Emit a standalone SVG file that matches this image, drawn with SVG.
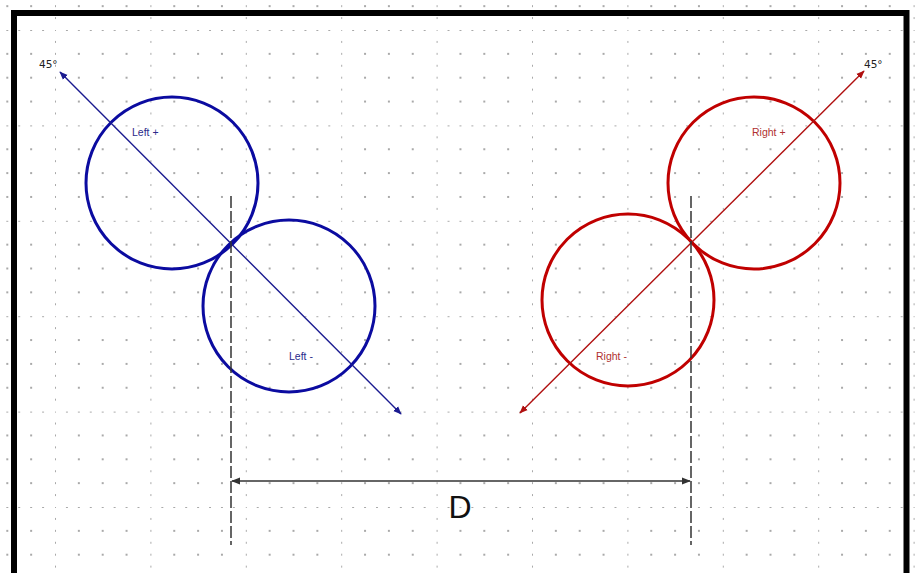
<svg xmlns="http://www.w3.org/2000/svg" width="915" height="573" viewBox="0 0 915 573">
<style>
.dot{fill:#3a3a3a}
.blue{stroke:#0b0ba0;fill:none;stroke-width:3}
.red{stroke:#c00000;fill:none;stroke-width:3}
.barrow{stroke:#1a1a90;stroke-width:1.4;fill:none}
.rarrow{stroke:#b01010;stroke-width:1.4;fill:none}
.dash{stroke:#333;stroke-width:1.5;stroke-dasharray:12,3;fill:none}
.dim{stroke:#333;stroke-width:1.5;fill:none}
.lbl{font-family:"Liberation Sans",Arial,sans-serif;font-size:10.5px}
.ang{font-family:"DejaVu Sans",sans-serif;font-size:10.5px;fill:#222}
</style>
<defs>
<pattern id="grid" patternUnits="userSpaceOnUse" x="-40.4" y="-65.4" width="95.4" height="95.4">
<g class="dot">
<circle cx="0" cy="0" r="0.8"/><circle cx="23.85" cy="0" r="0.8"/><circle cx="47.7" cy="0" r="0.8"/><circle cx="71.55" cy="0" r="0.8"/>
<circle cx="0" cy="23.85" r="0.8"/><circle cx="23.85" cy="23.85" r="0.8"/><circle cx="47.7" cy="23.85" r="0.8"/><circle cx="71.55" cy="23.85" r="0.8"/>
<circle cx="0" cy="47.7" r="0.8"/><circle cx="23.85" cy="47.7" r="0.8"/><circle cx="47.7" cy="47.7" r="0.8"/><circle cx="71.55" cy="47.7" r="0.8"/>
<circle cx="0" cy="71.55" r="0.8"/><circle cx="23.85" cy="71.55" r="0.8"/><circle cx="47.7" cy="71.55" r="0.8"/><circle cx="71.55" cy="71.55" r="0.8"/>
<circle cx="11.925" cy="0" r="0.8"/><circle cx="35.775" cy="0" r="0.8"/><circle cx="59.625" cy="0" r="0.8"/><circle cx="83.475" cy="0" r="0.8"/>
<circle cx="0" cy="11.925" r="0.8"/><circle cx="0" cy="35.775" r="0.8"/><circle cx="0" cy="59.625" r="0.8"/><circle cx="0" cy="83.475" r="0.8"/>
</g>
</pattern>
<marker id="ab" viewBox="0 0 10 10" refX="9" refY="5" markerWidth="6" markerHeight="6" orient="auto-start-reverse" markerUnits="strokeWidth"><path d="M0,1 L10,5 L0,9 z" fill="#1a1a90"/></marker>
<marker id="ar" viewBox="0 0 10 10" refX="9" refY="5" markerWidth="6" markerHeight="6" orient="auto-start-reverse" markerUnits="strokeWidth"><path d="M0,1 L10,5 L0,9 z" fill="#b01010"/></marker>
<marker id="ad" viewBox="0 0 10 10" refX="9" refY="5" markerWidth="6" markerHeight="6" orient="auto-start-reverse" markerUnits="strokeWidth"><path d="M0,1 L10,5 L0,9 z" fill="#333"/></marker>
</defs>
<rect width="915" height="573" fill="#fff"/>
<rect width="915" height="573" fill="url(#grid)"/>
<rect x="14" y="13" width="892.5" height="600" fill="none" stroke="#000" stroke-width="6"/>

<g id="left-plus">
<circle class="blue" cx="172" cy="183" r="86"/>
<text class="lbl" x="132" y="136" fill="#2a2a8a">Left +</text>
</g>
<g id="left-minus">
<circle class="blue" cx="289" cy="306" r="86"/>
<text class="lbl" x="289" y="360" fill="#2a2a8a">Left -</text>
</g>
<g id="right-plus">
<circle class="red" cx="754" cy="183" r="86"/>
<text class="lbl" x="752" y="136" fill="#b03030">Right +</text>
</g>
<g id="right-minus">
<circle class="red" cx="628" cy="300" r="86"/>
<text class="lbl" x="596" y="360" fill="#b03030">Right -</text>
</g>
<g id="angle-left"><text class="ang" x="39" y="68">45°</text></g>
<g id="angle-right"><text class="ang" x="864" y="68">45°</text></g>
<g id="dim-label"><text x="460" y="518" text-anchor="middle" font-family="'Liberation Sans',Arial,sans-serif" font-size="32" fill="#111">D</text></g>

<g id="connectors">
<line class="barrow" x1="60" y1="72" x2="401" y2="414" marker-start="url(#ab)" marker-end="url(#ab)"/>
<line class="rarrow" x1="520" y1="413" x2="864" y2="71" marker-start="url(#ar)" marker-end="url(#ar)"/>
<line class="dash" x1="231" y1="196" x2="231" y2="545"/>
<line class="dash" x1="691" y1="196" x2="691" y2="545"/>
<line class="dim" x1="232" y1="481" x2="690" y2="481" marker-start="url(#ad)" marker-end="url(#ad)"/>
</g>
</svg>
